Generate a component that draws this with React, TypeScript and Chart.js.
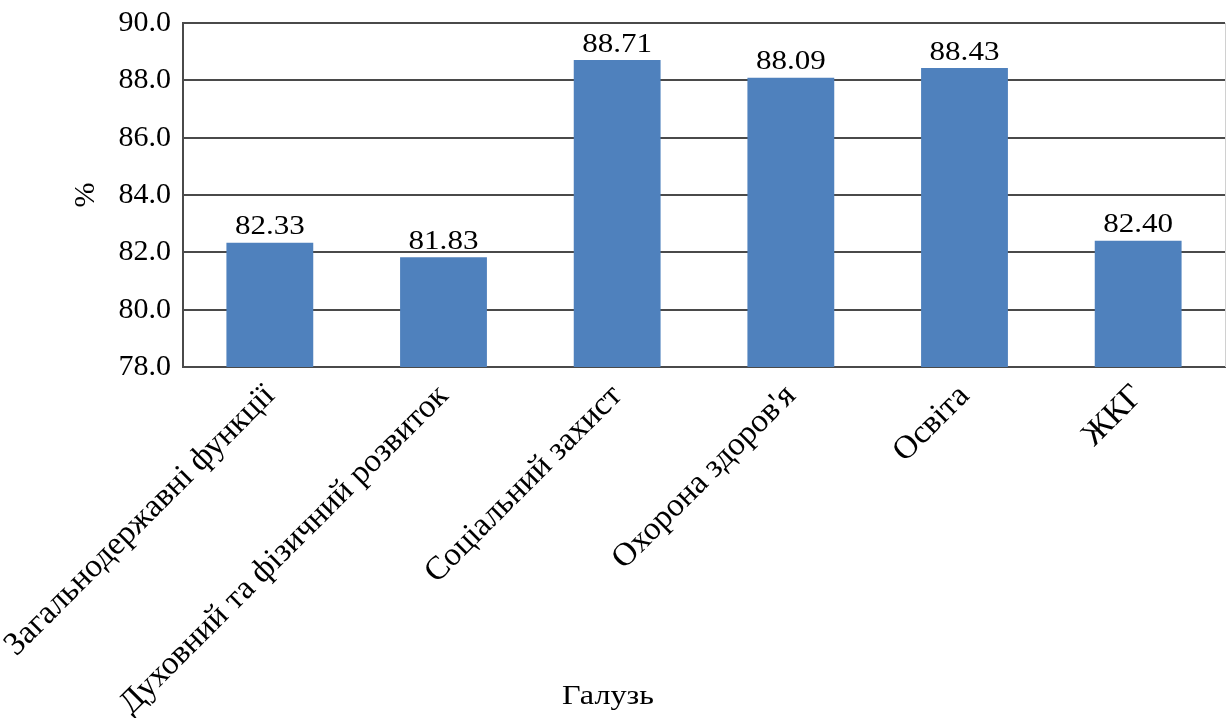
import React, { useEffect, useRef } from "react";
import { Chart, registerables } from "chart.js";

Chart.register(...registerables);

const categories = [
  "Загальнодержавні функції",
  "Духовний та фізичний розвиток",
  "Соціальний захист",
  "Охорона здоров'я",
  "Освіта",
  "ЖКГ",
];
const values = [82.33, 81.83, 88.71, 88.09, 88.43, 82.4];
const yMin = 78;
const yMax = 90;
const yStep = 2;
const xTitle = "Галузь";
const yTitle = "%";

const FONT = "'Liberation Serif', 'Times New Roman', serif";

const extrasPlugin = {
  id: "extras",
  afterDatasetsDraw(chart: any) {
    const ctx = chart.ctx;
    const meta = chart.getDatasetMeta(0);
    ctx.save();
    ctx.fillStyle = "#000";
    ctx.textAlign = "center";
    ctx.textBaseline = "bottom";
    meta.data.forEach((bar: any, i: number) => {
      ctx.save();
      ctx.translate(bar.x, bar.y - 2);
      ctx.scale(1.15, 1);
      ctx.font = `27px ${FONT}`;
      ctx.fillText(values[i].toFixed(2), 0, 0);
      ctx.restore();
    });
    // right border
    const a = chart.chartArea;
    ctx.strokeStyle = "#d0d0d0";
    ctx.lineWidth = 1;
    ctx.beginPath();
    ctx.moveTo(a.right + 0.5, a.top);
    ctx.lineTo(a.right + 0.5, a.bottom);
    ctx.stroke();
    // axis titles
    ctx.textBaseline = "middle";
    ctx.save();
    ctx.translate(chart.width / 2 - 6, 697);
    ctx.scale(1.15, 1);
    ctx.font = `28px ${FONT}`;
    ctx.fillText(xTitle, 0, 0);
    ctx.restore();
    ctx.translate(86, (a.top + a.bottom) / 2);
    ctx.rotate(-Math.PI / 2);
    ctx.font = `30px ${FONT}`;
    ctx.fillText(yTitle, 0, 0);
    ctx.restore();
  },
};

export default function App() {
  const ref = useRef<HTMLCanvasElement | null>(null);
  useEffect(() => {
    document.body.style.margin = "0";
    const chart = new Chart(ref.current!, {
      type: "bar",
      data: {
        labels: categories,
        datasets: [
          {
            data: values,
            backgroundColor: "#4F81BD",
            borderWidth: 0,
            categoryPercentage: 1,
            barPercentage: 0.5,
          },
        ],
      },
      options: {
        responsive: false,
        animation: false,
        layout: { padding: { top: 23, right: 3, left: 0, bottom: 0 } },
        plugins: {
          legend: { display: false },
          tooltip: { enabled: false },
        },
        scales: {
          x: {
            grid: { display: false },
            border: { display: true, color: "#4a4a4a", width: 2 },
            ticks: {
              color: "#000",
              font: { family: FONT, size: 33 },
              maxRotation: 45,
              minRotation: 45,
              autoSkip: false,
              padding: 2,
            },
            afterFit: (s: any) => {
              s.height = 351;
              s.paddingLeft = 0;
              s.paddingRight = 0;
            },
          },
          y: {
            min: yMin,
            max: yMax,
            grid: { color: "#4a4a4a", lineWidth: 2, drawTicks: false },
            border: { display: true, color: "#4a4a4a", width: 2 },
            ticks: {
              stepSize: yStep,
              color: "#000",
              font: { family: FONT, size: 30 },
              padding: 12,
              callback: (v: any) => Number(v).toFixed(1),
            },
            afterFit: (s: any) => {
              s.width = 183;
              s.paddingTop = 0;
              s.paddingBottom = 0;
            },
          },
        },
      },
      plugins: [extrasPlugin],
    });
    return () => chart.destroy();
  }, []);
  return <canvas ref={ref} width={1228} height={718} />;
}
